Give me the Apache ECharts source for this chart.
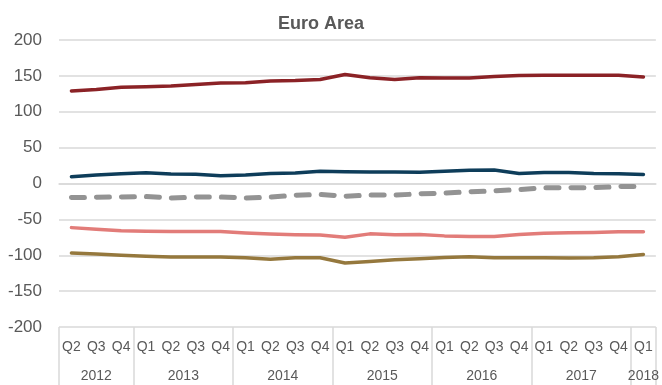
<!DOCTYPE html>
<html><head><meta charset="utf-8">
<script src="https://cdn.jsdelivr.net/npm/echarts@6/dist/echarts.min.js"></script>
<style>html,body{margin:0;padding:0;background:#fff}#c{width:662px;height:385px}</style>
</head><body><div id="c"></div>
<script>
const quarters = ['Q2','Q3','Q4','Q1','Q2','Q3','Q4','Q1','Q2','Q3','Q4','Q1','Q2','Q3','Q4','Q1','Q2','Q3','Q4','Q1','Q2','Q3','Q4','Q1'];
const years = ['2012','2013','2014','2015','2016','2017','2018'];
const quartersPerYear = [3,4,4,4,4,4,1];
const yMin = -200, yMax = 200, yInterval = 50;

const seriesRed    = [129,131,134,135,136,138,140,140.5,143,143.5,145,152,147.5,145,147.5,147,147,149,150.5,151,151,151,151,148.5];
const seriesNavy   = [9.5,12,13.5,15,13.3,12.8,10.8,11.8,13.8,14.6,17,16.5,16,16,15.8,17.2,18.5,18.8,14,15.3,15.3,13.9,13.5,12.6];
const seriesGray   = [-19.6,-19.2,-18.7,-18.2,-20.3,-18.9,-18.8,-20.3,-18.9,-16.4,-15.2,-17.7,-16.2,-16.2,-14.4,-13.4,-11.6,-10.3,-8.5,-6,-6,-5.8,-4.3,-4.2];
const seriesSalmon = [-61.5,-63.8,-66,-66.6,-67,-67,-67,-69,-70.3,-71.3,-71.7,-75,-70.2,-71.6,-71.1,-73,-73.9,-73.9,-71.1,-69.2,-68.8,-68.3,-67.4,-67.4];
const seriesOlive  = [-96.9,-98.2,-100,-101.5,-102.4,-102.4,-102.4,-103.4,-105.5,-103.4,-103.4,-110.8,-108.7,-106.3,-104.9,-103,-102.1,-103.6,-103.5,-103.5,-104,-103.6,-102,-98.8];

// year axis built on half-quarter points (2*n+1 points)
const nQ = quarters.length;
const yearAxisData = [];
for (let k = 0; k <= 2 * nQ; k++) yearAxisData.push('p' + k);
const yearLabelAt = {};
const yearBoundary = new Set();
let s = 0;
quartersPerYear.forEach((c, g) => {
  yearBoundary.add(2 * s);
  yearLabelAt[2 * s + c] = years[g];
  s += c;
});
yearBoundary.add(2 * s);

const textColor = '#595959';
const gridColor = '#d9d9d9';
const font = "'Liberation Sans Narrow','Arial Narrow','Liberation Sans',sans-serif";

const mk = (name, data, color, extra) => Object.assign({
  name, type: 'line', data, symbol: 'none', smooth: false, silent: true,
  lineStyle: { color, width: 3.5, cap: 'round', join: 'round' },
  xAxisIndex: 0, yAxisIndex: 0
}, extra || {});

const chart = echarts.init(document.getElementById('c'), null, { renderer: 'canvas' });
chart.setOption({
  animation: false,
  backgroundColor: '#fff',
  title: {
    text: 'Euro Area', left: 273, top: 10,
    textStyle: { fontFamily: font, fontWeight: 'bold', fontSize: 18, color: textColor }
  },
  grid: { left: 59, right: 1, top: 40, bottom: 58, containLabel: false },
  xAxis: [
    {
      type: 'category', data: quarters, boundaryGap: true, position: 'bottom',
      axisLine: { show: true, lineStyle: { color: gridColor, width: 1.5 } },
      axisTick: { show: false },
      axisLabel: { interval: 0, margin: 13, fontFamily: font, fontSize: 14, color: textColor }
    },
    {
      type: 'category', data: yearAxisData, boundaryGap: false, position: 'bottom', offset: 0,
      axisLine: { show: false },
      axisTick: { show: true, length: 60, interval: (i) => yearBoundary.has(i), lineStyle: { color: gridColor, width: 1.5 } },
      axisLabel: { interval: 0, margin: 42, fontFamily: font, fontSize: 14, color: textColor,
        formatter: (v, i) => yearLabelAt[i] || '' },
      splitLine: { show: false }
    }
  ],
  yAxis: {
    type: 'value', min: yMin, max: yMax, interval: yInterval,
    axisLine: { show: false }, axisTick: { show: false },
    axisLabel: { margin: 17, fontFamily: font, fontSize: 17, color: textColor },
    splitLine: { show: true, lineStyle: { color: gridColor, width: 1.5 } }
  },
  series: [
    mk('red', seriesRed, '#8B2226'),
    mk('navy', seriesNavy, '#0E3D5A'),
    mk('gray', seriesGray, '#939393', { lineStyle: { color: '#939393', width: 5, type: [13, 12], cap: 'round', join: 'round' } }),
    mk('salmon', seriesSalmon, '#E27C79'),
    mk('olive', seriesOlive, '#95783D')
  ]
});
</script>
</body></html>
